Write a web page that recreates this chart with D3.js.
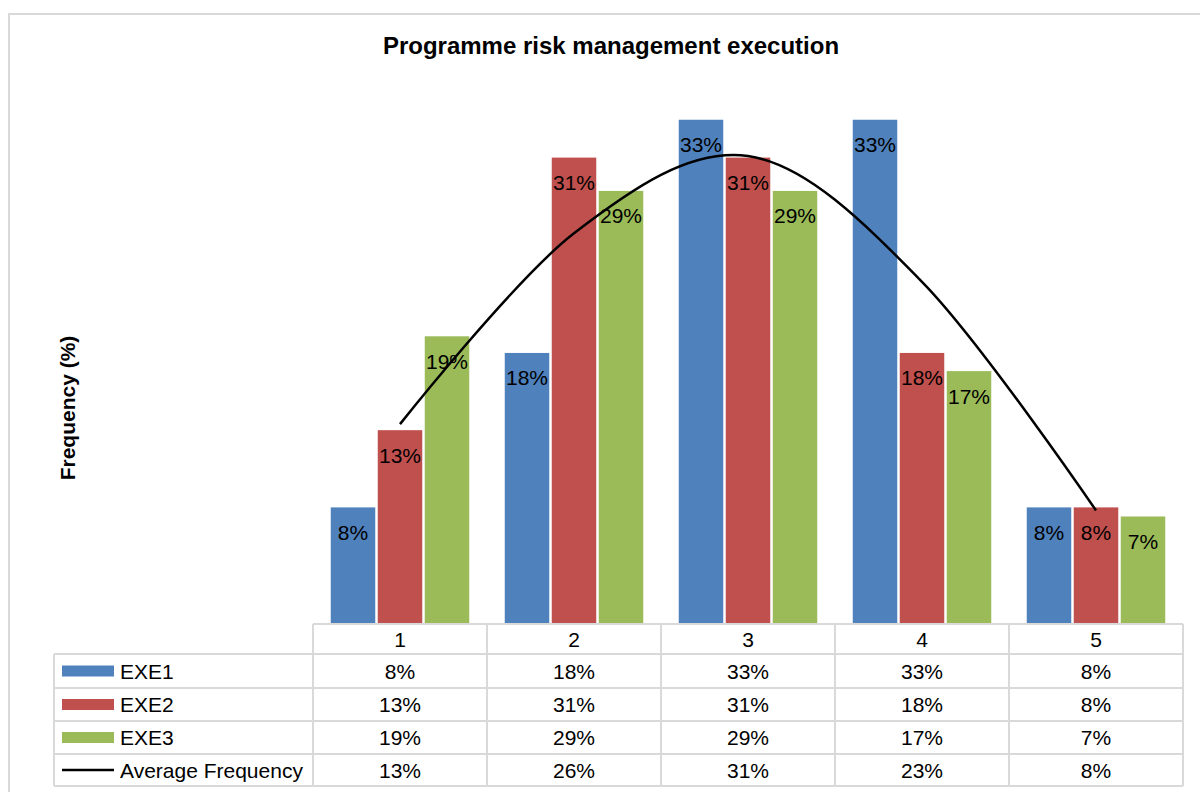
<!DOCTYPE html>
<html>
    <head>
        <title>Programme risk management execution</title>
        <script src="https://d3js.org/d3.v7.min.js"></script>
        <style>
            body{ margin:0; background:#fff; }
            svg{ display:block; font-family:"Liberation Sans", Arial, sans-serif; }
        </style>
    </head>
    <body>
        <svg width="1200" height="792"></svg>
    </body>
    <script>
        // Werte aus dem Bild gelesen (Anteile, Tabelle zeigt gerundet)
        const categories = ["1", "2", "3", "4", "5"];
        const seriesNames = ["EXE1", "EXE2", "EXE3"];
        const exe1 = [0.077, 0.179, 0.333, 0.333, 0.077];
        const exe2 = [0.128, 0.308, 0.308, 0.179, 0.077];
        const exe3 = [0.190, 0.286, 0.286, 0.167, 0.071];
        const average = [0.132, 0.258, 0.309, 0.226, 0.075];
        const colors = ["#4F81BD", "#C0504D", "#9BBB59"];
        const series = [exe1, exe2, exe3];

        const fmt = d3.format(".0%");
        const svg = d3.select("svg");

        // Rahmen des Diagramms
        svg.append("rect")
            .attr("x", 9).attr("y", 14)
            .attr("width", 1220).attr("height", 820)
            .attr("fill", "none").attr("stroke", "#d9d9d9").attr("stroke-width", 2);

        svg.append("text")
            .attr("x", 611).attr("y", 54)
            .attr("text-anchor", "middle")
            .style("font-size", "24px").style("font-weight", "bold")
            .text("Programme risk management execution");

        svg.append("text")
            .attr("transform", "translate(75,408) rotate(-90)")
            .attr("text-anchor", "middle")
            .style("font-size", "21px").style("font-weight", "bold")
            .text("Frequency (%)");

        // Skalen
        const x0 = d3.scaleBand().domain(categories).range([313, 1183]);
        const x1 = d3.scaleBand().domain(seriesNames).range([0, 141]);
        const y = d3.scaleLinear().domain([0, 0.35]).range([624, 94]);
        const groupStart = c => x0(c) + x0.bandwidth() / 2 - 70.5;

        // Balken
        series.forEach(function(values, s){
            const g = svg.append("g");
            g.selectAll("rect")
                .data(values)
                .join("rect")
                .attr("x", (d, i) => groupStart(categories[i]) + x1(seriesNames[s]) + 1.25)
                .attr("y", d => y(d))
                .attr("width", x1.bandwidth() - 2.5)
                .attr("height", d => y(0) - y(d))
                .attr("fill", colors[s]);

            g.selectAll("text")
                .data(values)
                .join("text")
                .attr("x", (d, i) => groupStart(categories[i]) + x1(seriesNames[s]) + x1.bandwidth() / 2)
                .attr("y", d => y(d) + 32.5)
                .attr("text-anchor", "middle")
                .style("font-size", "21px")
                .text(d => fmt(d));
        });

        // Durchschnittslinie (geglättet wie in Excel)
        const line = d3.line()
            .x((d, i) => x0(categories[i]) + x0.bandwidth() / 2)
            .y(d => y(d))
            .curve(d3.curveCatmullRom.alpha(0));

        svg.append("path")
            .datum(average)
            .attr("d", line)
            .attr("fill", "none")
            .attr("stroke", "#000")
            .attr("stroke-width", 2.5);

        // Datentabelle
        const headerTop = 624, rowTop = 654;
        const rowH = [34, 33, 33, 32];
        const rowY = [rowTop];
        rowH.forEach((h, i) => rowY.push(rowY[i] + h));
        const tableRows = [exe1, exe2, exe3, average];
        const rowNames = seriesNames.concat(["Average Frequency"]);
        const grid = svg.append("g")
            .attr("stroke", "#d9d9d9").attr("stroke-width", 2);

        grid.append("line")
            .attr("x1", 313).attr("x2", 1183)
            .attr("y1", headerTop).attr("y2", headerTop);
        rowY.forEach(yy => grid.append("line")
            .attr("x1", 54).attr("x2", 1183)
            .attr("y1", yy).attr("y2", yy));
        grid.append("line")
            .attr("x1", 54).attr("x2", 54)
            .attr("y1", rowTop).attr("y2", rowY[rowY.length - 1]);
        categories.concat([null]).forEach(function(c){
            const xx = c === null ? 1183 : x0(c);
            grid.append("line")
                .attr("x1", xx).attr("x2", xx)
                .attr("y1", headerTop).attr("y2", rowY[rowY.length - 1]);
        });

        // Kopfzeile
        svg.selectAll(".head")
            .data(categories)
            .join("text")
            .attr("class", "head")
            .attr("x", c => x0(c) + x0.bandwidth() / 2)
            .attr("y", 647)
            .attr("text-anchor", "middle")
            .style("font-size", "21px")
            .text(c => c);

        tableRows.forEach(function(values, r){
            const cy = (rowY[r] + rowY[r + 1]) / 2;
            svg.append("g").selectAll("text")
                .data(values)
                .join("text")
                .attr("x", (d, i) => x0(categories[i]) + x0.bandwidth() / 2)
                .attr("y", cy + 7.5)
                .attr("text-anchor", "middle")
                .style("font-size", "21px")
                .text(d => fmt(d));

            // Legendenschlüssel
            if(r < 3){
                svg.append("rect")
                    .attr("x", 62).attr("y", cy - 5.5)
                    .attr("width", 52).attr("height", 11)
                    .attr("fill", colors[r]);
            } else {
                svg.append("line")
                    .attr("x1", 62).attr("x2", 114)
                    .attr("y1", cy).attr("y2", cy)
                    .attr("stroke", "#000").attr("stroke-width", 2.5);
            }
            svg.append("text")
                .attr("x", 120).attr("y", cy + 7.5)
                .style("font-size", "21px")
                .text(rowNames[r]);
        });
    </script>
</html>
